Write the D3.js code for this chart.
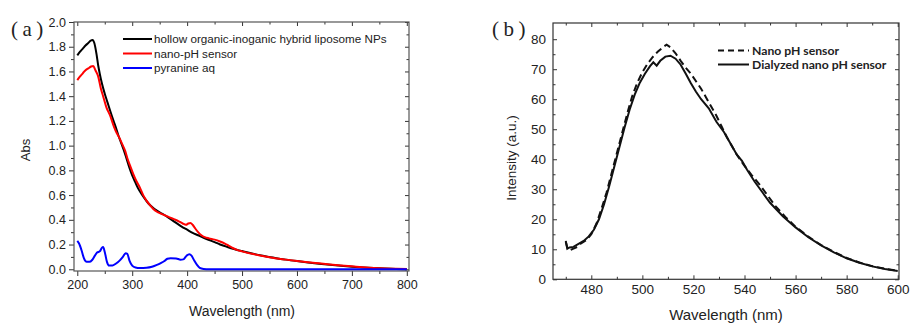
<!DOCTYPE html>
<html>
<head>
<meta charset="utf-8">
<script src="https://cdn.jsdelivr.net/npm/d3@7"></script>
<style>
  body { margin: 0; background: #fff; }
  svg { display: block; }
  text { font-family: "Liberation Sans", Arial, sans-serif; fill: #222; }
</style>
</head>
<body>
<div id="chart"></div>
<script>
// ---- panel (a) data: UV-vis absorbance ----
let hollowNPs = [[200,1.73],[205,1.76],[210,1.785],[215,1.81],[220,1.83],[224,1.848],[228,1.855],[231,1.83],[235,1.74],[238,1.65],[241,1.58],[245,1.5],[250,1.42],[255,1.35],[260,1.28],[266,1.2],[270,1.15],[275,1.08],[280,1.02],[285,0.96],[290,0.89],[295,0.82],[300,0.76],[305,0.71],[310,0.66],[320,0.59],[330,0.53],[340,0.49],[350,0.46],[360,0.435],[370,0.405],[380,0.375],[390,0.345],[400,0.32],[410,0.295],[420,0.275],[430,0.255],[440,0.237],[450,0.22],[460,0.2],[470,0.185],[480,0.17],[490,0.158],[500,0.147],[520,0.125],[540,0.108],[560,0.092],[580,0.078],[600,0.066],[620,0.055],[640,0.045],[660,0.036],[680,0.028],[700,0.021],[720,0.015],[740,0.01],[760,0.006],[780,0.003],[800,0.001]]
let nanoPHSensor = [[200,1.53],[205,1.56],[210,1.585],[215,1.61],[220,1.625],[225,1.64],[229,1.645],[233,1.61],[238,1.56],[243,1.46],[247,1.4],[253,1.31],[260,1.24],[267,1.15],[272,1.1],[277,1.06],[282,1.01],[287,0.96],[291,0.9],[296,0.84],[302,0.77],[308,0.71],[314,0.66],[320,0.6],[326,0.555],[332,0.52],[338,0.49],[345,0.465],[352,0.45],[360,0.435],[368,0.42],[376,0.405],[384,0.39],[392,0.37],[398,0.36],[402,0.37],[406,0.375],[410,0.36],[414,0.335],[420,0.3],[426,0.275],[432,0.26],[440,0.25],[450,0.24],[460,0.225],[468,0.21],[476,0.19],[484,0.17],[492,0.155],[500,0.145],[520,0.123],[540,0.105],[560,0.09],[580,0.078],[600,0.067],[620,0.057],[640,0.048],[660,0.039],[680,0.031],[700,0.024],[720,0.017],[740,0.011],[760,0.007],[780,0.004],[800,0.002]]
let pyranineAq = [[200,0.23],[203,0.21],[208,0.15],[212,0.09],[217,0.06],[222,0.06],[227,0.075],[232,0.11],[236,0.135],[241,0.145],[245,0.175],[247,0.18],[250,0.14],[254,0.06],[258,0.03],[264,0.03],[270,0.045],[277,0.07],[283,0.1],[288,0.13],[291,0.125],[295,0.07],[300,0.03],[306,0.015],[314,0.01],[326,0.012],[336,0.02],[345,0.035],[352,0.05],[358,0.065],[364,0.085],[370,0.09],[380,0.088],[388,0.078],[393,0.08],[399,0.11],[404,0.122],[408,0.11],[413,0.07],[418,0.035],[423,0.012],[430,0.003],[440,0],[500,0],[600,0],[700,0],[800,0]]
let seriesNamesA = ['hollow organic-inoganic hybrid liposome NPs', 'nano-pH sensor', 'pyranine aq']
let seriesColorsA = ['#000000', '#ff0000', '#0000ff']
let xTicksA = [200, 300, 400, 500, 600, 700, 800]
let xMinorA = [250, 350, 450, 550, 650, 750]
let yTicksA = [0, 0.2, 0.4, 0.6, 0.8, 1.0, 1.2, 1.4, 1.6, 1.8, 2.0]
let yMinorA = [0.1, 0.3, 0.5, 0.7, 0.9, 1.1, 1.3, 1.5, 1.7, 1.9]

// ---- panel (b) data: fluorescence emission ----
let nanoPH = [[470,12.5],[470.6,10.5],[471.5,9.6],[473,10.2],[474.5,10.8],[476,12],[478,13],[480,15],[482,18.5],[484,23.5],[486,29],[488,35.5],[490,42],[492,48.5],[494,55],[496,61],[498,65.5],[500,69],[502,71.8],[504,74],[506,75.8],[508,77.3],[509.5,78.2],[511,77.3],[513,75.3],[515,72.8],[517,70.5],[519,68.5],[521,66],[523,63.5],[525,60.5],[527,57.5],[529,54.5],[531,51],[533,47.5],[535,44.5],[537,41.5],[540,37.8],[543,34.5],[546,31.5],[549,28],[552,24.5],[556,20.8],[560,17.5],[565,14.2],[570,11.4],[575,9.1],[580,7.1],[585,5.6],[590,4.4],[595,3.5],[600,2.9]]
let dialyzedNanoPH = [[470,12.8],[470.6,10.2],[471.5,10.6],[473,10.8],[475,11.8],[477,12.8],[479,14.3],[481,16.5],[483,20],[485,25],[487,31],[489,37.5],[491,44],[493,50.5],[495,56.5],[497,61.5],[499,65.5],[501,68.5],[503,71],[504.3,72.3],[505.6,71.2],[507,72.8],[509,74.2],[511,74.5],[513,73.5],[515,71.5],[517,68.5],[519,65.3],[521,62.5],[523,60],[526,57],[529,52.5],[532,49],[535,44.5],[537,41.5],[539,39.5],[541,36.5],[544,32.5],[547,29],[550,25.5],[555,21],[560,17.3],[565,14],[570,11.3],[575,9],[580,7],[585,5.5],[590,4.3],[595,3.4],[600,2.8]]
let seriesNamesB = ['Nano pH sensor', 'Dialyzed nano pH sensor']
let xTicksB = [480, 500, 520, 540, 560, 580, 600]
let xMinorB = [470, 490, 510, 530, 550, 570, 590]
let yTicksB = [0, 10, 20, 30, 40, 50, 60, 70, 80]
let yMinorB = [5, 15, 25, 35, 45, 55, 65, 75]

let W = 912, H = 325
let svg = d3.select('#chart').append('svg').attr('width', W).attr('height', H)

// draw a boxed frame with ticks on all four sides
let drawFrame = (g, x, y, o) => {
	let [x0, x1] = x.range()
	let [y0, y1] = y.range()
	let out = o.outward
	g.append('g').attr('transform', `translate(0,${y0})`)
		.call(d3.axisBottom(x).tickValues(o.xt).tickFormat(d => d).tickSize(out ? 5 : -4).tickPadding(out ? 4 : 5))
		.call(a => a.selectAll('text').attr('font-size', o.fs).attr('fill', '#222'))
	g.append('g').attr('transform', `translate(0,${y0})`)
		.call(d3.axisBottom(x).tickValues(o.xm).tickFormat('').tickSize(out ? 3 : -2.5))
	g.append('g').attr('transform', `translate(${x0},0)`)
		.call(d3.axisLeft(y).tickValues(o.yt).tickFormat(o.fmt).tickSize(o.yOut ? 5 : -4).tickPadding(o.yOut ? 3 : 7))
		.call(a => a.selectAll('text').attr('font-size', o.fs).attr('fill', '#222'))
	g.append('g').attr('transform', `translate(${x0},0)`)
		.call(d3.axisLeft(y).tickValues(o.ym).tickFormat('').tickSize(o.yOut ? 3 : -2.5))
	// mirrored ticks, pointing in
	g.append('g').attr('transform', `translate(0,${y1})`)
		.call(d3.axisTop(x).tickValues(o.xt).tickFormat('').tickSize(-4))
	g.append('g').attr('transform', `translate(0,${y1})`)
		.call(d3.axisTop(x).tickValues(o.xm).tickFormat('').tickSize(-2.5))
	g.append('g').attr('transform', `translate(${x1},0)`)
		.call(d3.axisRight(y).tickValues(o.yt).tickFormat('').tickSize(-4))
	g.append('g').attr('transform', `translate(${x1},0)`)
		.call(d3.axisRight(y).tickValues(o.ym).tickFormat('').tickSize(-2.5))
	g.selectAll('.domain').remove()
	g.selectAll('.tick line').attr('stroke', '#333')
	g.append('rect').attr('x', x0).attr('y', y1).attr('width', x1 - x0).attr('height', y0 - y1)
		.attr('fill', 'none').attr('stroke', o.frame).attr('stroke-width', 1.2)
}

// ---------- (a) ----------
let xA = d3.scaleLinear().domain([194, 804]).range([74, 409])
let yA = d3.scaleLinear().domain([-0.014, 2.0]).range([271, 22])
let gA = svg.append('g')
drawFrame(gA, xA, yA, { xt: xTicksA, xm: xMinorA, yt: yTicksA, ym: yMinorA, fmt: d3.format('.1f'), fs: 12.5, outward: true, yOut: true, frame: '#555' })

let lineA = d3.line().x(d => xA(d[0])).y(d => yA(d[1])).curve(d3.curveMonotoneX)
;[hollowNPs, nanoPHSensor, pyranineAq].forEach((s, i) => {
	gA.append('path').datum(s).attr('d', lineA)
		.attr('fill', 'none').attr('stroke', seriesColorsA[i]).attr('stroke-width', 2)
})

seriesNamesA.forEach((n, i) => {
	let ly = 39 + i * 14.5
	gA.append('line').attr('x1', 123).attr('x2', 152).attr('y1', ly).attr('y2', ly)
		.attr('stroke', seriesColorsA[i]).attr('stroke-width', 2)
	gA.append('text').attr('x', 154).attr('y', ly + 4).attr('font-size', 11.7).text(n)
})

gA.append('text').attr('transform', 'translate(30,150) rotate(-90)').attr('text-anchor', 'middle')
	.attr('font-size', 13).text('Abs')
gA.append('text').attr('x', 242).attr('y', 316).attr('text-anchor', 'middle')
	.attr('font-size', 14).text('Wavelength (nm)')
gA.append('text').attr('x', 11).attr('y', 36).attr('font-size', 21).attr('letter-spacing', 4.5)
	.style('font-family', '"Liberation Serif", serif').text('(a)')

// ---------- (b) ----------
let xB = d3.scaleLinear().domain([465, 600.5]).range([553, 899])
let yB = d3.scaleLinear().domain([0, 85.4]).range([279.3, 23])
let gB = svg.append('g')
drawFrame(gB, xB, yB, { xt: xTicksB, xm: xMinorB, yt: yTicksB, ym: yMinorB, fmt: d3.format('d'), fs: 13.5, outward: false, yOut: false, frame: '#333' })

let lineB = d3.line().x(d => xB(d[0])).y(d => yB(d[1]))
gB.append('path').datum(nanoPH).attr('d', lineB).attr('fill', 'none')
	.attr('stroke', '#111').attr('stroke-width', 2).attr('stroke-dasharray', '7,4')
gB.append('path').datum(dialyzedNanoPH).attr('d', lineB).attr('fill', 'none')
	.attr('stroke', '#111').attr('stroke-width', 2)

seriesNamesB.forEach((n, i) => {
	let ly = 50.5 + i * 14
	gB.append('line').attr('x1', 718).attr('x2', 749).attr('y1', ly).attr('y2', ly)
		.attr('stroke', '#111').attr('stroke-width', 2).attr('stroke-dasharray', i === 0 ? '6,4' : null)
	gB.append('text').attr('x', 752).attr('y', ly + 4.3).attr('font-size', 12.2).attr('font-weight', 'bold')
		.style('font-family', 'Lato, "Liberation Sans", sans-serif').text(n)
})

gB.append('text').attr('transform', 'translate(516,158) rotate(-90)').attr('text-anchor', 'middle')
	.attr('font-size', 13.5).text('Intensity (a.u.)')
gB.append('text').attr('x', 726).attr('y', 320).attr('text-anchor', 'middle')
	.attr('font-size', 15).text('Wavelength (nm)')
gB.append('text').attr('x', 492).attr('y', 36).attr('font-size', 21).attr('letter-spacing', 4.5)
	.style('font-family', '"Liberation Serif", serif').text('(b)')
</script>
</body>
</html>
